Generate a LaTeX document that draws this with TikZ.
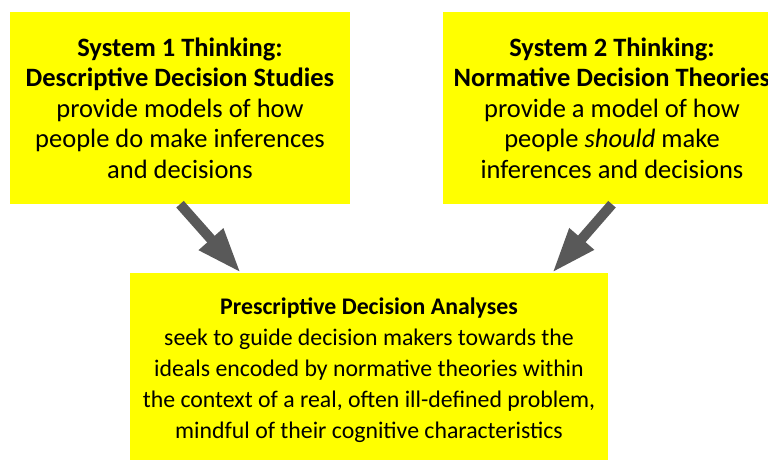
\documentclass[tikz,border=0pt]{standalone}
\usepackage{fontspec}
\setmainfont{Carlito}
\usetikzlibrary{arrows.meta,calc,positioning}
\definecolor{jaune}{RGB}{255,255,0}
\definecolor{gris}{RGB}{89,89,89}

\begin{document}
\begin{tikzpicture}[x=1pt,y=-1pt,
    box style/.style={fill=jaune,inner sep=0pt,align=center,
      font=\fontsize{26.5}{30.5}\selectfont},
    arrow style/.style={draw=gris,line width=10pt,
      -{Triangle[length=45pt,width=30pt]}}]
    \useasboundingbox (0,0) rectangle (768,459);
    \clip (0,0) rectangle (768,459);

    % les deux boites du haut
    \node[box style,minimum width=340pt,minimum height=192pt] (sys1) at (180,108)
      {\textbf{System 1 Thinking:}\\\textbf{Descriptive Decision Studies}\\provide models of how\\people do make inferences\\and decisions};
    \node[box style,minimum width=338pt,minimum height=192pt] (sys2) at (612,108)
      {\textbf{System 2 Thinking:}\\\textbf{Normative Decision Theories}\\provide a model of how\\people \textit{should} make\\inferences and decisions};

    % la boite du bas
    \node[box style,font=\fontsize{23.8}{31}\selectfont,minimum width=478pt,minimum height=194pt] (presc) at (369,370)
      {\textbf{Prescriptive Decision Analyses}\\seek to guide decision makers towards the\\ideals encoded by normative theories within\\the context of a real, often ill-defined problem,\\mindful of their cognitive characteristics};

    % points d'arrivee des fleches
    \coordinate (tip1) at ($(presc.north west)!0.232!(presc.north east)$);
    \coordinate (tip2) at ($(presc.north west)!0.883!(presc.north east)$);

    \draw[arrow style] (sys1.south) -- (tip1);
    \draw[arrow style] (sys2.south) -- (tip2);
\end{tikzpicture}
\end{document}
